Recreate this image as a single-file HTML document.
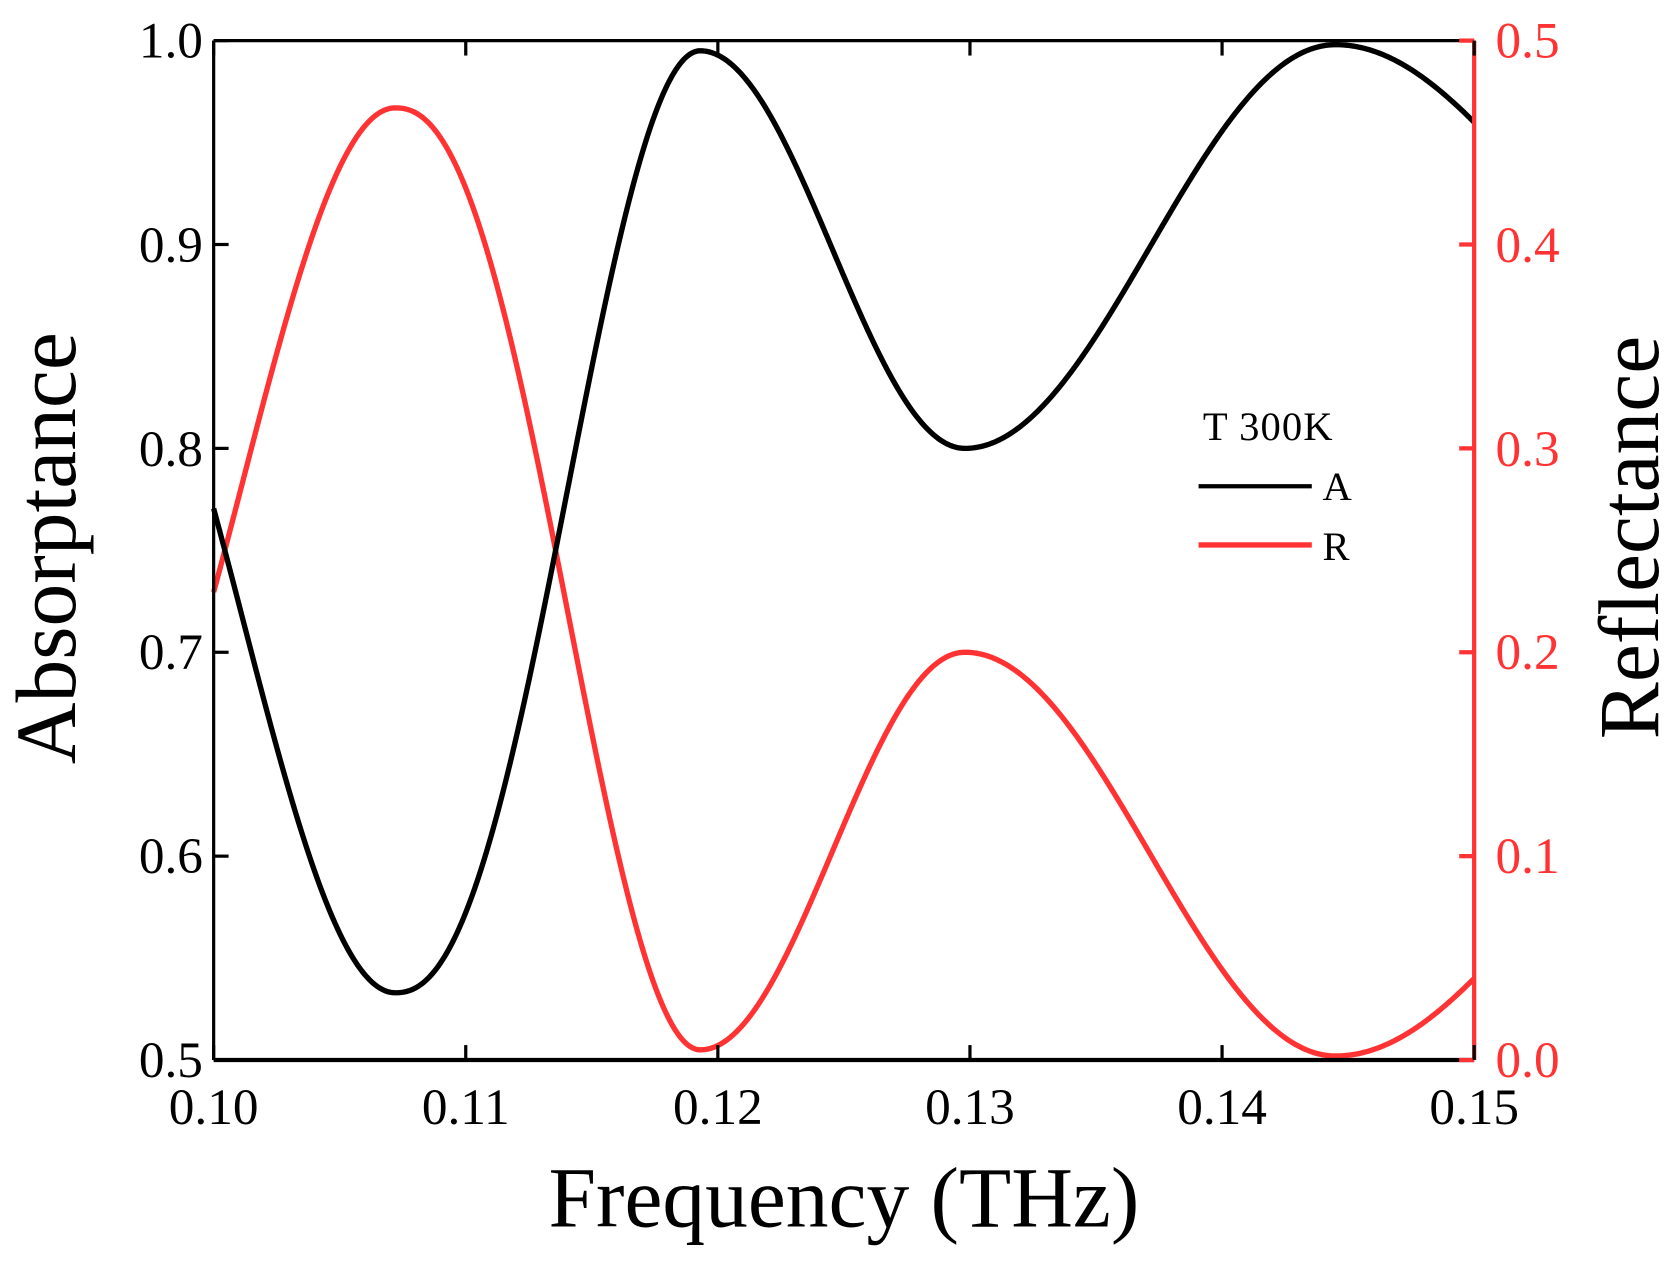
<!DOCTYPE html>
<html><head><meta charset="utf-8"><style>
html,body{margin:0;padding:0;background:#fff;}
svg{display:block;}
text{font-family:"Liberation Serif",serif;}
</style></head><body>
<svg id="s" width="1675" height="1262" viewBox="0 0 1568 1181" preserveAspectRatio="none" xmlns="http://www.w3.org/2000/svg">
<rect width="1568" height="1181" fill="#fff"/>
<g id="curves"></g>
<line x1="200" y1="38" x2="1380" y2="38" stroke="#000" stroke-width="3"/>
<line x1="200" y1="992" x2="1380" y2="992" stroke="#000" stroke-width="4"/>
<line x1="200" y1="38" x2="200" y2="992" stroke="#000" stroke-width="3"/>
<line x1="1380" y1="38" x2="1380" y2="992" stroke="#ff3333" stroke-width="4"/>
<g id="ticks"></g>
<g font-size="48" fill="#000" text-anchor="end">
<text x="190" y="54">1.0</text><text x="190" y="245">0.9</text><text x="190" y="436">0.8</text>
<text x="190" y="626">0.7</text><text x="190" y="817">0.6</text><text x="190" y="1008">0.5</text>
</g>
<g font-size="48" fill="#ff3333" text-anchor="start">
<text x="1400" y="54">0.5</text><text x="1400" y="245">0.4</text><text x="1400" y="436">0.3</text>
<text x="1400" y="626">0.2</text><text x="1400" y="817">0.1</text><text x="1400" y="1008">0.0</text>
</g>
<g font-size="48" fill="#000" text-anchor="middle">
<text x="200" y="1052">0.10</text><text x="436" y="1052">0.11</text><text x="672" y="1052">0.12</text>
<text x="908" y="1052">0.13</text><text x="1144" y="1052">0.14</text><text x="1380" y="1052">0.15</text>
</g>
<text x="790" y="1148" font-size="80" text-anchor="middle">Frequency (THz)</text>
<text transform="translate(70,513) rotate(-90)" font-size="80" text-anchor="middle">Absorptance</text>
<text transform="translate(1552,503) rotate(-90)" font-size="80" text-anchor="middle">Reflectance</text>
<text x="1126" y="412" font-size="38" letter-spacing="1">T  300K</text>
<line x1="1122" y1="455" x2="1228" y2="455" stroke="#000" stroke-width="4"/>
<text x="1238" y="468" font-size="38">A</text>
<line x1="1122" y1="510" x2="1228" y2="510" stroke="#ff3333" stroke-width="5"/>
<text x="1238" y="524" font-size="38">R</text>
</svg>
<script>
var ext=[[0.0951,0.90,1],[0.1072,0.533,1.14],[0.1193,0.995,1],[0.1298,0.80,1],[0.1445,0.998,1],[0.1600,0.862,1]];
function A(f){for(var i=0;i<ext.length-1;i++){var a=ext[i],b=ext[i+1];if(f>=a[0]&&f<=b[0]){var t=Math.pow((f-a[0])/(b[0]-a[0]),a[2]);return a[1]+(b[1]-a[1])*(1-Math.cos(Math.PI*t))/2;}}return 0.8;}
function X(f){return 200+(f-0.1)*23600;}
function Y(v){return 992-(v-0.5)*1908;}
var pa="",pr="";
for(var i=0;i<=600;i++){var f=0.1+0.05*i/600;var a=A(f);pa+=(i?"L":"M")+X(f).toFixed(2)+","+Y(a).toFixed(2);pr+=(i?"L":"M")+X(f).toFixed(2)+","+Y(1.5-a).toFixed(2);}
var NS="http://www.w3.org/2000/svg";
function ln(g,x1,y1,x2,y2,c,w){var l=document.createElementNS(NS,"line");l.setAttribute("x1",x1);l.setAttribute("y1",y1);l.setAttribute("x2",x2);l.setAttribute("y2",y2);l.setAttribute("stroke",c);l.setAttribute("stroke-width",w);g.appendChild(l);}
var g=document.getElementById("curves");
[[pr,"#ff3333"],[pa,"#000"]].forEach(function(p){var e=document.createElementNS(NS,"path");e.setAttribute("d",p[0]);e.setAttribute("fill","none");e.setAttribute("stroke",p[1]);e.setAttribute("stroke-width","5");g.appendChild(e);});
var t=document.getElementById("ticks");
for(var k=0;k<6;k++){var y=38+k*190.8;ln(t,200,y,214,y,"#000",3);ln(t,1366,y,1380,y,"#ff3333",4);var x=200+k*236;ln(t,x,992,x,978,"#000",3);ln(t,x,38,x,52,"#000",3);}
</script>
</body></html>
